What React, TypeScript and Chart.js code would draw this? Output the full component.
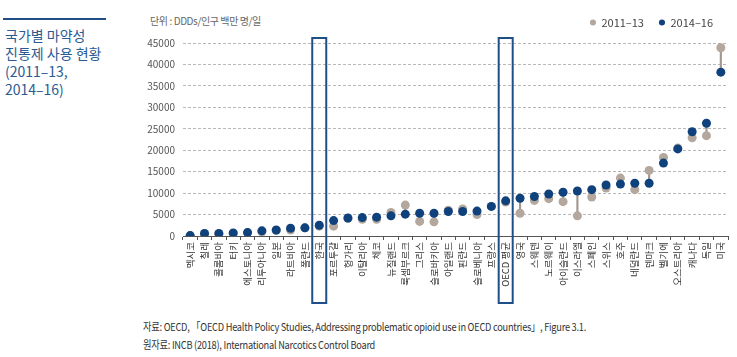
import React, { useEffect, useRef } from 'react';
import { Chart, registerables } from 'chart.js';

Chart.register(...registerables);

const categories = [
  '멕시코', '칠레', '콜롬비아', '터키', '에스토니아', '리투아니아', '일본', '라트비아', '폴란드', '한국',
  '포르투갈', '헝가리', '이탈리아', '체코', '뉴질랜드', '룩셈부르크', '그리스', '슬로바키아', '아일랜드', '핀란드',
  '슬로베니아', '프랑스', 'OECD 평균', '영국', '스웨덴', '노르웨이', '아이슬란드', '이스라엘', '스페인', '스위스',
  '호주', '네덜란드', '덴마크', '벨기에', '오스트리아', '캐나다', '독일', '미국',
];

const series2011to13 = [
  100, 500, 500, 600, 800, 1000, 1300, 1400, 1900, 2300,
  2300, 4100, 3900, 3900, 5500, 7200, 3400, 3300, 6000, 6300,
  5000, 6900, 7900, 5300, 8300, 8700, 8000, 4700, 9100, 11200,
  13500, 10800, 15300, 18300, 20500, 22900, 23400, 43900,
];

const series2014to16 = [
  100, 600, 600, 700, 800, 1200, 1400, 1800, 1900, 2500,
  3600, 4200, 4300, 4400, 4700, 5100, 5300, 5300, 5700, 5700,
  5800, 6900, 8200, 8800, 9200, 9800, 10200, 10500, 10800, 11900,
  12100, 12300, 12300, 17000, 20300, 24300, 26300, 38200,
];

const seriesLabels = ['2011–13', '2014–16'];
const highlighted = ['한국', 'OECD 평균'];
const yMin = 0;
const yMax = 45000;
const yStep = 5000;

const GRAY = '#b4a79d';
const BLUE = '#0f427c';
const LINK = '#a39890';
const BOX = '#1f4f86';
const FONT = "'Noto Sans CJK KR', 'Noto Sans', sans-serif";

export default function App() {
  const ref = useRef<HTMLCanvasElement>(null);

  useEffect(() => {
    document.body.style.margin = '0';
    const canvas = ref.current;
    if (!canvas) return;

    const legendGap = {
      id: 'legendGap',
      beforeInit(chart: any) {
        const legend = chart.legend;
        if (!legend) return;
        const origFit = legend.fit;
        legend.fit = function () {
          origFit.call(this);
          this.height += 5;
        };
      },
    };

    const boxPlugin = {
      id: 'highlightBoxes',
      afterDraw(chart: any) {
        const xs = chart.scales.x;
        const { ctx, chartArea } = chart;
        ctx.save();
        ctx.strokeStyle = BOX;
        ctx.lineWidth = 2;
        highlighted.forEach((name) => {
          const i = categories.indexOf(name);
          const cx = xs.getPixelForValue(i);
          const top = chartArea.top - 5;
          const bottom = chartArea.bottom + 67;
          ctx.strokeRect(cx - 7, top, 14, bottom - top);
        });
        ctx.restore();
      },
    };

    const chart = new Chart(canvas, {
      type: 'line',
      data: {
        labels: categories,
        datasets: [
          {
            type: 'line',
            label: seriesLabels[0],
            data: series2011to13,
            showLine: false,
            pointRadius: 4.5,
            pointHoverRadius: 4.5,
            pointBackgroundColor: GRAY,
            pointBorderWidth: 0,
            backgroundColor: GRAY,
            borderColor: GRAY,
            order: 1,
          },
          {
            type: 'line',
            label: seriesLabels[1],
            data: series2014to16,
            showLine: false,
            pointRadius: 4.5,
            pointHoverRadius: 4.5,
            pointBackgroundColor: BLUE,
            pointBorderWidth: 0,
            backgroundColor: BLUE,
            borderColor: BLUE,
            order: 0,
          },
          {
            type: 'bar',
            label: 'link',
            data: categories.map((_, i) => [series2011to13[i], series2014to16[i]]) as any,
            backgroundColor: LINK,
            barThickness: 1.5,
            order: 2,
          } as any,
        ],
      },
      options: {
        responsive: false,
        animation: false,
        layout: { padding: { top: 2, right: 9, left: 0, bottom: 0 } },
        plugins: {
          legend: {
            position: 'top',
            align: 'end',
            labels: {
              usePointStyle: true,
              pointStyle: 'circle',
              boxWidth: 6,
              boxHeight: 4.3,
              padding: 15,
              color: '#444',
              font: { family: FONT, size: 11 },
              filter: (item: any) => item.datasetIndex !== 2,
              sort: (a: any, b: any) => a.datasetIndex - b.datasetIndex,
            },
          },
          tooltip: { enabled: false },
        },
        scales: {
          x: {
            type: 'category',
            offset: true,
            grid: {
              display: true,
              offset: true,
              drawOnChartArea: false,
              drawTicks: true,
              tickLength: 4,
              color: '#555',
            },
            border: { display: true, color: '#555', width: 1 },
            ticks: {
              autoSkip: false,
              maxRotation: 90,
              minRotation: 90,
              padding: 2,
              color: '#333',
              font: { family: FONT, size: 9.5 },
            },
            afterFit: (scale: any) => {
              scale.height = 74;
            },
          },
          y: {
            min: yMin,
            max: yMax,
            ticks: {
              stepSize: yStep,
              padding: 8,
              color: '#555',
              font: { family: FONT, size: 10 },
              callback: (v: any) => String(v),
            },
            grid: {
              drawTicks: false,
              color: (c: any) => (c.tick && c.tick.value === 0 ? 'rgba(0,0,0,0)' : '#b8b8b8'),
            },
            border: { display: false, dash: [3, 2] },
            afterFit: (scale: any) => {
              scale.width = 53;
            },
          },
        },
      },
      plugins: [legendGap, boxPlugin],
    });

    return () => chart.destroy();
  }, []);

  return (
    <div style={{ position: 'absolute', left: 0, top: 0, width: 737, height: 357, background: '#fff', overflow: 'hidden', fontFamily: FONT }}>
      <div style={{ position: 'absolute', left: 3, top: 18, width: 103, height: 2, background: BOX }} />
      <div style={{ position: 'absolute', left: 5, top: 26, fontSize: 14, lineHeight: '18px', color: '#2a5b92', whiteSpace: 'pre' }}>
        {'국가별 마약성\n진통제 사용 현황\n(2011–13,\n2014–16)'}
      </div>
      <div style={{ position: 'absolute', left: 150, top: 14, fontSize: 10, lineHeight: '14px', color: '#666', letterSpacing: '-0.4px', whiteSpace: 'nowrap' }}>
        단위 : DDDs/인구 백만 명/일
      </div>
      <canvas ref={ref} width={607} height={310} style={{ position: 'absolute', left: 130, top: 0, width: 607, height: 310 }} />
      <div style={{ position: 'absolute', left: 143, top: 317, fontSize: 11, lineHeight: '18px', color: '#333', whiteSpace: 'nowrap', letterSpacing: '-0.3px', transform: 'scaleX(0.84)', transformOrigin: 'left top' }}>
        <div>자료: OECD, 「OECD Health Policy Studies, Addressing problematic opioid use in OECD countries」, Figure 3.1.</div>
        <div>원자료: INCB (2018), International Narcotics Control Board</div>
      </div>
    </div>
  );
}
